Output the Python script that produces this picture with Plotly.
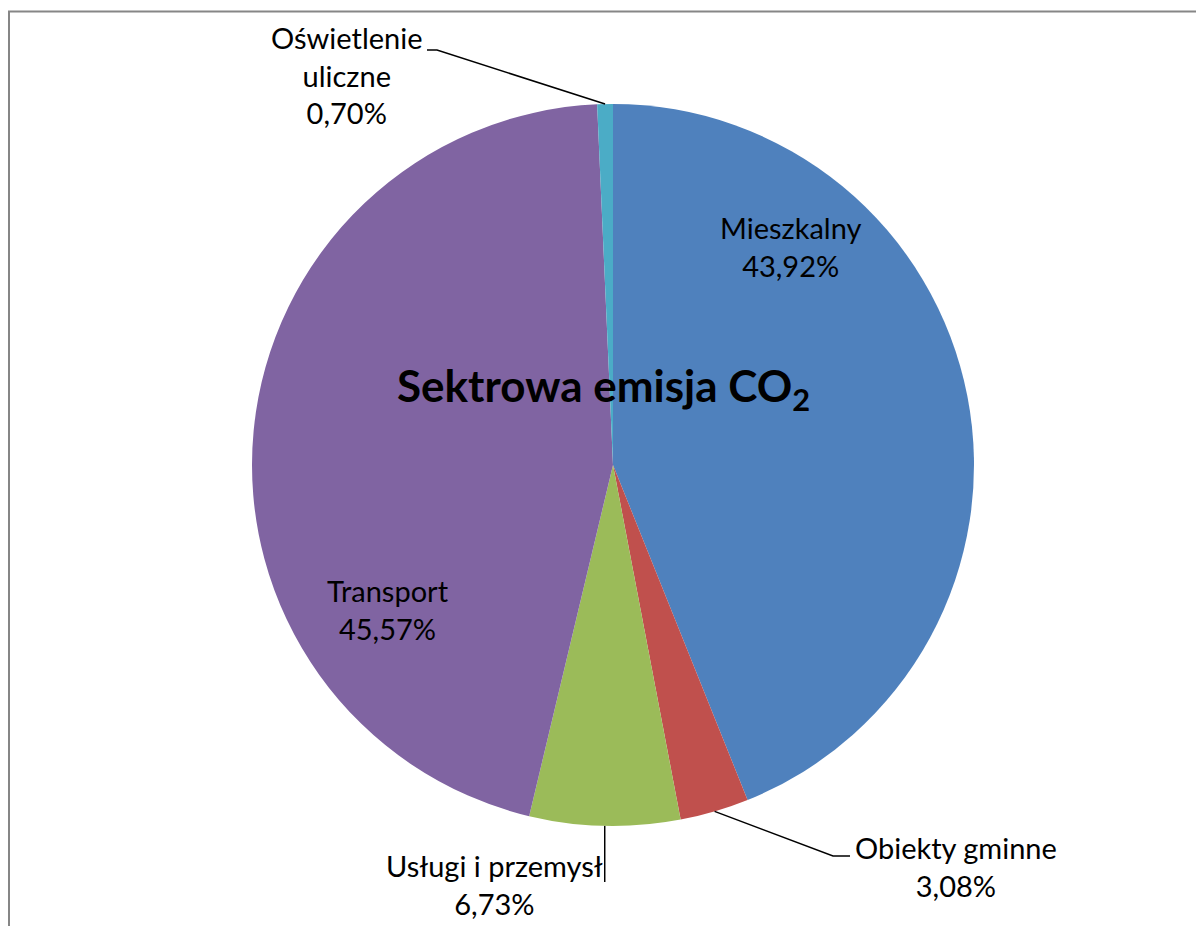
import math
import plotly.graph_objects as go

# ---- data ----
labels = ["Mieszkalny", "Obiekty gminne", "Usługi i przemysł", "Transport", "Oświetlenie uliczne"]
values = [43.92, 3.08, 6.73, 45.57, 0.70]
value_text = ["43,92%", "3,08%", "6,73%", "45,57%", "0,70%"]
colors = ["#4F81BD", "#C0504D", "#9BBB59", "#8064A2", "#4BACC6"]
title_text = "Sektrowa emisja CO<sub>2</sub>"

W, H = 1204, 926
OFF = 8  # page body margin
CX, CY, R = 613, 465, 361
FONT = "Lato"

def px(x):
    return (x - OFF) / W

def py(y):
    return 1 - (y - OFF) / H

fig = go.Figure(go.Pie(
    labels=labels, values=values, sort=False, direction="clockwise", rotation=0,
    marker=dict(colors=colors, line=dict(width=0)),
    textinfo="none", hoverinfo="skip", showlegend=False,
    domain=dict(x=[px(CX - R), px(CX + R)], y=[py(CY + R), py(CY - R)]),
))

# slice mid-angle edge points (from data)
total = sum(values)
cum = 0
edge = []
for v in values:
    mid = (cum + v / 2) / total * 2 * math.pi
    edge.append((CX + R * math.sin(mid), CY - R * math.cos(mid)))
    cum += v

lab_font = dict(family=FONT, size=29, color="black")
ann = []
shapes = []

# frame
shapes.append(dict(type="rect", xref="paper", yref="paper",
                   x0=px(9), x1=px(W + 40), y0=py(H + 40), y1=py(11.5),
                   line=dict(color="#868686", width=2)))

# Mieszkalny (inside)
ann.append(dict(x=px(790), y=py(246), text=labels[0] + "<br>" + value_text[0]))
# Transport (inside)
ann.append(dict(x=px(388), y=py(609), text=labels[3] + "<br>" + value_text[3]))
# Oświetlenie uliczne (outside, leader)
ann.append(dict(x=px(347), y=py(75), text="Oświetlenie<br>uliczne<br>" + value_text[4]))
ex, ey = edge[4]
shapes.append(dict(type="path", xref="paper", yref="paper",
                   path=f"M {px(ex)},{py(ey)} L {px(437)},{py(50)} L {px(427)},{py(50)}",
                   line=dict(color="black", width=1.5)))
# Obiekty gminne (outside, leader)
ann.append(dict(x=px(956), y=py(866), text=labels[1] + "<br>" + value_text[1]))
ex, ey = edge[1]
shapes.append(dict(type="path", xref="paper", yref="paper",
                   path=f"M {px(ex)},{py(ey)} L {px(833)},{py(856)} L {px(850)},{py(856)}",
                   line=dict(color="black", width=1.5)))
# Usługi i przemysł (outside, leader)
ann.append(dict(x=px(494), y=py(884), text=labels[2] + "<br>" + value_text[2]))
ex, ey = edge[2]
shapes.append(dict(type="path", xref="paper", yref="paper",
                   path=f"M {px(ex)},{py(ey)} L {px(ex)},{py(882)}",
                   line=dict(color="black", width=1.5)))

annotations = []
for a in ann:
    a.update(xref="paper", yref="paper", showarrow=False, font=lab_font,
             xanchor="center", yanchor="middle", align="center")
    annotations.append(a)

# title
annotations.append(dict(xref="paper", yref="paper", x=px(603), y=py(388), showarrow=False,
                        text="<b>" + title_text + "</b>",
                        font=dict(family=FONT, size=44, color="black"),
                        xanchor="center", yanchor="middle"))

fig.update_layout(width=W, height=H, margin=dict(l=0, r=0, t=0, b=0),
                  paper_bgcolor="white", plot_bgcolor="white",
                  annotations=annotations, shapes=shapes)

fig.write_html("out.html")
